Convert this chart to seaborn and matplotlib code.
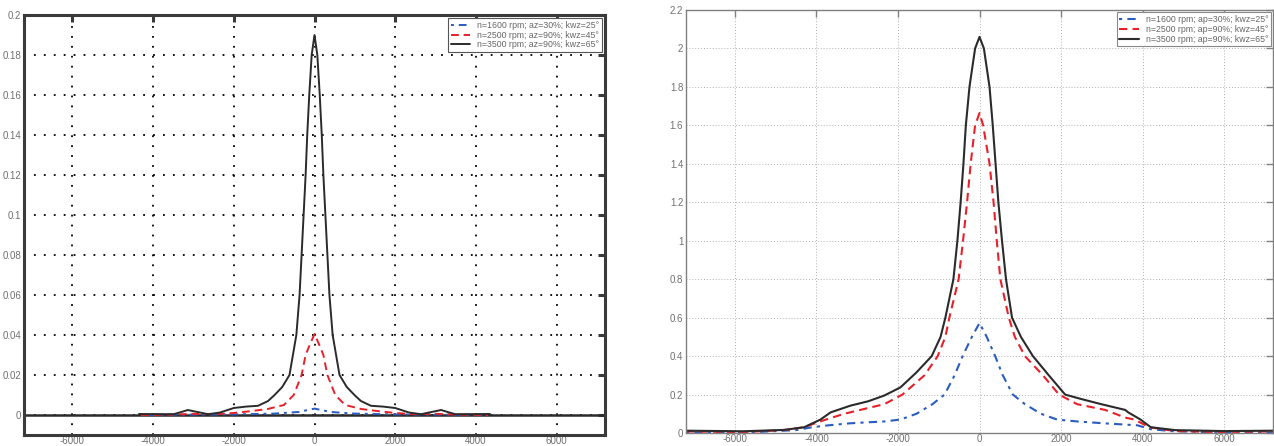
import numpy as np
import pandas as pd
import matplotlib
matplotlib.use("Agg")
import matplotlib.pyplot as plt
import seaborn as sns
from matplotlib.ticker import FuncFormatter

sns.set_theme(style="white")
plt.rcParams['font.family'] = ['Liberation Sans', 'DejaVu Sans']

# ---------------- data: left panel ----------------
left_labels = ["n=1600 rpm; az=30%; kwz=25°",
               "n=2500 rpm; az=90%; kwz=45°",
               "n=3500 rpm; az=90%; kwz=65°"]
left_blue_x = [-4300, -3000, -2000, -1000, -400, 0, 400, 1000, 2000, 3000, 4300]
left_blue_y = [0.0, 0.0002, 0.0003, 0.0007, 0.0015, 0.0032, 0.0015, 0.0007, 0.0003, 0.0002, 0.0]
left_red_x = [-4300, -3500, -3000, -2500, -2000, -1550, -1160, -760, -515, -320, -220, -120, 0,
              120, 220, 320, 515, 760, 1160, 1550, 2000, 2500, 3000, 3500, 4300]
left_red_y = [0.0, 0.0002, 0.0006, 0.0004, 0.001, 0.002, 0.003, 0.005, 0.01, 0.02, 0.03, 0.035, 0.0405,
              0.035, 0.03, 0.02, 0.01, 0.005, 0.003, 0.002, 0.001, 0.0004, 0.0006, 0.0002, 0.0]
left_black_x = [-4350, -3490, -3300, -3140, -2900, -2640, -2350, -2000, -1700, -1400, -1150, -990,
                -800, -620, -450, -370, -320, -270, -220, -180, -130, -70, 0,
                70, 130, 180, 220, 270, 320, 370, 450, 620, 800, 990, 1150, 1400, 1700, 2000,
                2350, 2640, 2900, 3140, 3300, 3490, 4350]
left_black_y = [0.0005, 0.0004, 0.0015, 0.0025, 0.0015, 0.0004, 0.0012, 0.0035, 0.0042, 0.0046, 0.007, 0.01,
                0.014, 0.02, 0.04, 0.06, 0.08, 0.10, 0.12, 0.14, 0.16, 0.18, 0.19,
                0.18, 0.16, 0.14, 0.12, 0.10, 0.08, 0.06, 0.04, 0.02, 0.014, 0.01, 0.007, 0.0046, 0.0042, 0.0035,
                0.0012, 0.0004, 0.0015, 0.0025, 0.0015, 0.0004, 0.0005]

# ---------------- data: right panel ----------------
right_labels = ["n=1600 rpm; ap=30%; kwz=25°",
                "n=2500 rpm; ap=90%; kwz=45°",
                "n=3500 rpm; ap=90%; kwz=65°"]
right_blue_x = [-7200, -6500, -5500, -4500, -4108, -3700, -3200, -2800, -2335, -1940, -1547, -1153, -857,
                -611, -414, -187, 0, 177, 384, 571, 818, 1113, 1507, 1901, 2394, 3084, 3872, 4200,
                4700, 6000, 7200]
right_blue_y = [0.005, 0.0, 0.005, 0.015, 0.03, 0.04, 0.05, 0.055, 0.06, 0.07, 0.1, 0.15, 0.2,
                0.3, 0.4, 0.5, 0.572, 0.5, 0.4, 0.3, 0.2, 0.15, 0.1, 0.07, 0.06, 0.05, 0.04, 0.02,
                0.01, 0.002, 0.003]
right_red_x = [-7200, -5800, -4800, -4305, -3911, -3616, -3320, -2926, -2335, -1890, -1350, -1025, -837,
               -739, -512, -404, -305, -217, -108, 0, 89, 246, 345, 424, 512, 719, 867, 1113, 1556,
               1950, 2394, 3084, 3576, 3800, 4167, 4800, 5800, 7200]
right_red_y = [0.008, 0.005, 0.015, 0.03, 0.06, 0.08, 0.1, 0.12, 0.15, 0.2, 0.3, 0.4, 0.5,
               0.6, 0.8, 1.0, 1.2, 1.4, 1.6, 1.664, 1.6, 1.4, 1.2, 1.0, 0.8, 0.6, 0.5, 0.4, 0.3,
               0.2, 0.15, 0.12, 0.08, 0.07, 0.03, 0.01, 0.005, 0.008]
right_black_x = [-7200, -5800, -4800, -4300, -3900, -3655, -3170, -2730, -2335, -1940, -1547, -1172, -955,
                 -837, -640, -542, -463, -394, -335, -246, -108, 0, 108, 246, 325, 394, 463, 552, 650,
                 798, 1015, 1310, 1700, 2100, 2490, 2985, 3576, 3650, 3950, 4200, 4800, 6000, 7200]
right_black_y = [0.012, 0.009, 0.016, 0.03, 0.07, 0.107, 0.142, 0.165, 0.195, 0.237, 0.315, 0.4, 0.5,
                 0.6, 0.8, 1.0, 1.2, 1.4, 1.6, 1.8, 2.0, 2.06, 2.0, 1.8, 1.6, 1.4, 1.2, 1.0, 0.8,
                 0.6, 0.5, 0.4, 0.3, 0.2, 0.177, 0.15, 0.12, 0.107, 0.07, 0.03, 0.015, 0.01, 0.012]

x_ticks = [-6000, -4000, -2000, 0, 2000, 4000, 6000]
left_y_ticks = [0, 0.02, 0.04, 0.06, 0.08, 0.1, 0.12, 0.14, 0.16, 0.18, 0.2]
right_y_ticks = [0, 0.2, 0.4, 0.6, 0.8, 1, 1.2, 1.4, 1.6, 1.8, 2, 2.2]

colors = ["#2a5cbf", "#e8202a", "#2b2b2b"]


def build_df(labels, xs, ys):
    frames = []
    for lab, x, y in zip(labels, xs, ys):
        frames.append(pd.DataFrame({"x": x, "y": y, "series": lab}))
    return pd.concat(frames, ignore_index=True)


df_left = build_df(left_labels, [left_blue_x, left_red_x, left_black_x],
                   [left_blue_y, left_red_y, left_black_y])
df_right = build_df(right_labels, [right_blue_x, right_red_x, right_black_x],
                    [right_blue_y, right_red_y, right_black_y])

fig = plt.figure(figsize=(12.74, 4.46), dpi=100)
W, H = 1274, 446
axL = fig.add_axes([24 / W, (H - 435) / H, (605 - 24) / W, (435 - 15) / H])
axR = fig.add_axes([686 / W, (H - 433) / H, (1273 - 686) / W, (433 - 10) / H])

dash_styles = [(1.5, 2.5, 4, 2.5), (4, 2.5), ""]


def draw(ax, df, labels, lw_main):
    pal = dict(zip(labels, colors))
    dsh = dict(zip(labels, dash_styles))
    sns.lineplot(data=df, x="x", y="y", hue="series", style="series",
                 palette=pal, dashes=dsh, hue_order=labels, style_order=labels,
                 estimator=None, sort=True, linewidth=lw_main, ax=ax)
    ax.set_xlabel("")
    ax.set_ylabel("")
    ax.set_xlim(-7200, 7200)
    ax.set_xticks(x_ticks)
    ax.xaxis.set_major_formatter(FuncFormatter(lambda v, p: "%g" % v))
    ax.yaxis.set_major_formatter(FuncFormatter(lambda v, p: "%g" % v))


def style_legend(leg, edge):
    leg.get_frame().set_linewidth(0.8)
    leg.get_frame().set_edgecolor(edge)
    for t in leg.get_texts():
        t.set_color("#666666")


# ---- left panel ----
axL.axhline(0, color="#2b2b2b", lw=1.8, zorder=1)
draw(axL, df_left, left_labels, 1.4)
axL.set_ylim(-0.01, 0.2)
axL.set_yticks(left_y_ticks)
axL.grid(True, color="black", linestyle=(0, (1, 4.5)), linewidth=1.3)
for s in axL.spines.values():
    s.set_color("#3a3a3a")
    s.set_linewidth(2.2)
axL.tick_params(direction="in", length=5, width=2.2, color="#3a3a3a",
                top=True, right=True, labelsize=7, labelcolor="#707070", pad=2)
axL.tick_params(axis="x", pad=1)
legL = axL.legend(loc="upper right", fontsize=6.3, frameon=True, fancybox=False,
                  framealpha=1, borderpad=0.3, labelspacing=0.1,
                  handlelength=2.2, handletextpad=0.8, borderaxespad=0.35)
style_legend(legL, "#555555")

# ---- right panel ----
draw(axR, df_right, right_labels, 1.5)
axR.set_ylim(0, 2.2)
axR.set_yticks(right_y_ticks)
axR.grid(True, color="#b0b0b0", linestyle=(0, (1, 2)), linewidth=0.7)
for s in axR.spines.values():
    s.set_color("#808080")
    s.set_linewidth(1.0)
axR.tick_params(direction="in", length=5, width=1.0, color="#808080",
                top=True, right=True, labelsize=7, labelcolor="#707070", pad=2)
axR.tick_params(axis="x", pad=1)
legR = axR.legend(loc="upper right", fontsize=6.3, frameon=True, fancybox=False,
                  framealpha=1, borderpad=0.3, labelspacing=0.1,
                  handlelength=2.2, handletextpad=0.8, borderaxespad=0.25)
style_legend(legR, "#888888")

fig.savefig("out.png", dpi=100)
